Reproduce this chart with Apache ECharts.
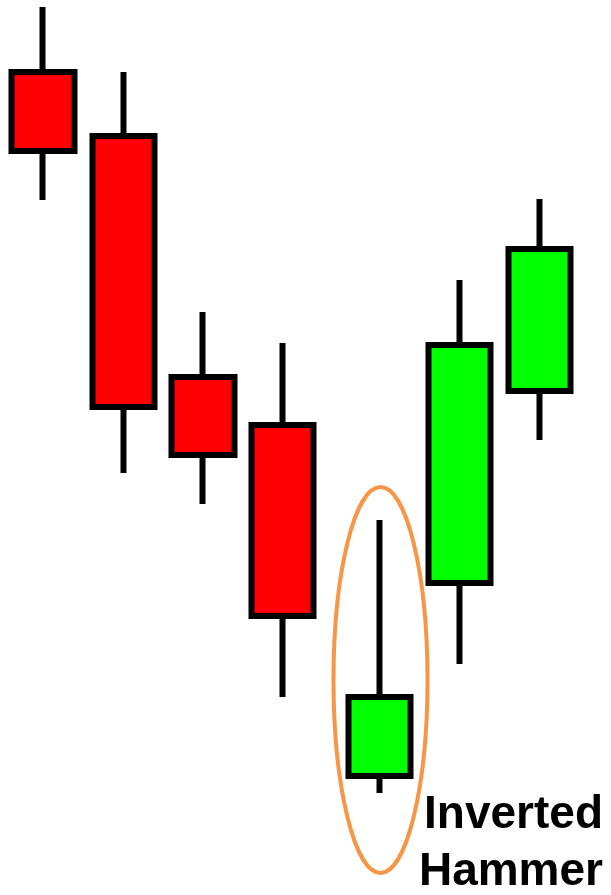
<!DOCTYPE html>
<html>
<head>
<meta charset="utf-8">
<title>Inverted Hammer</title>
<script src="https://cdn.jsdelivr.net/npm/echarts@6/dist/echarts.min.js"></script>
<style>
  html, body { margin: 0; padding: 0; background: #fff; }
  #main { width: 611px; height: 895px; }
</style>
</head>
<body>
<div id="main"></div>
<script>
// x position of each candle (the hammer sits a bit further right)
var xPos   = [43, 123.3, 203, 282.7, 379.5, 459.5, 539.7];
// prices
var opens  = [82.8, 76.4, 52.3, 47.5, 12.4, 31.7, 50.9];
var closes = [74.9, 49.3, 44.5, 28.4, 20.3, 55.5, 65.1];
var lows   = [70.0, 42.7, 39.6, 20.3, 10.7, 23.6, 46.0];
var highs  = [89.3, 82.8, 58.8, 55.7, 38.0, 62.0, 70.1];

var label = 'Inverted\nHammer';

var candles = [];
for (var i = 0; i < xPos.length; i++) {
  candles.push([xPos[i], opens[i], closes[i], lows[i], highs[i]]);
}

var myChart = echarts.init(document.getElementById('main'));

var option = {
  backgroundColor: '#fff',
  animation: false,
  grid: { left: 0, right: 0, top: 0, bottom: 0 },
  xAxis: { type: 'value', min: 0, max: 611, show: false },
  yAxis: { type: 'value', min: 0.5, max: 90, show: false, scale: true },
  series: [{
    type: 'candlestick',
    barWidth: 63,
    encode: { x: 0, y: [1, 2, 3, 4] },
    data: candles,
    itemStyle: {
      color: '#00ff00',     // up
      color0: '#ff0000',    // down
      borderColor: '#000',
      borderColor0: '#000',
      borderWidth: 6
    }
  }],
  graphic: [
    // circle round the hammer
    {
      type: 'ellipse',
      shape: { cx: 380.5, cy: 680, rx: 47, ry: 193 },
      style: { fill: null, stroke: '#f79646', lineWidth: 4 },
      z: 100
    },
    {
      type: 'text',
      x: 603,
      y: 843.5,
      style: {
        text: label,
        fill: '#000',
        font: 'bold 46px "Liberation Sans", Arial, sans-serif',
        lineHeight: 57,
        align: 'right',
        verticalAlign: 'middle'
      },
      z: 100
    }
  ]
};

myChart.setOption(option);
</script>
</body>
</html>
